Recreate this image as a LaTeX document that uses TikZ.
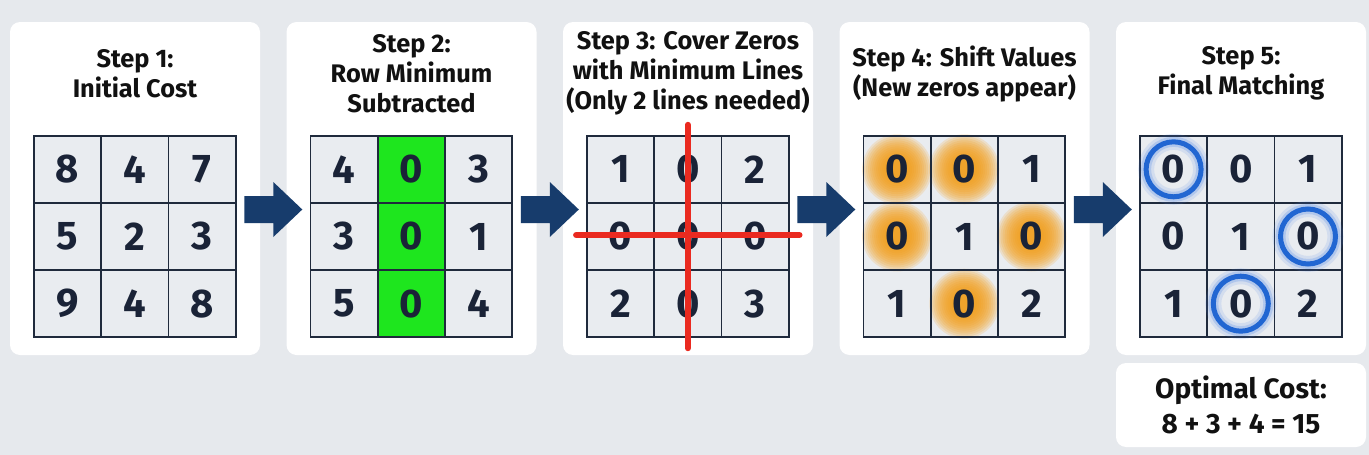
\documentclass[tikz,border=0pt]{standalone}
\usepackage{fontspec}
\setmainfont{Fira Sans}
\definecolor{bgc}{HTML}{E6E9ED}
\definecolor{cellbg}{HTML}{E9ECF0}
\definecolor{gridc}{HTML}{1F2A3C}
\definecolor{digitc}{HTML}{1A2337}
\definecolor{arrowc}{HTML}{173C6C}
\definecolor{greenc}{HTML}{1EE61E}
\definecolor{redc}{HTML}{EA2A20}
\definecolor{orangec}{HTML}{F59E16}
\definecolor{bluec}{HTML}{2166D2}
\definecolor{blueglow}{HTML}{4F86E8}
\definecolor{titlec}{HTML}{111111}
\pgfdeclarelayer{back}
\pgfdeclarelayer{fillL}
\pgfdeclarelayer{glowL}
\pgfsetlayers{back,fillL,glowL,main}
\begin{document}
\begin{tikzpicture}[x=1pt,y=-1pt,
  panel/.style={fill=white, draw=none, rounded corners=10pt, minimum width=250pt, minimum height=333pt, inner sep=0pt},
  cell/.style={draw=gridc, line width=1.8pt, minimum size=67.2pt, inner sep=0pt, text=digitc, font=\bfseries\fontsize{40}{40}\selectfont},
  title/.style={align=center, inner sep=0pt, text=titlec, font=\bfseries\fontsize{25.4}{30}\selectfont},
  redline/.style={draw=redc, line width=6pt, line cap=round},
  barrow/.pic={\fill[arrowc] (-42,-13.5)--(-13,-13.5)--(-13,-27.5)--(16,0)--(-13,27.5)--(-13,13.5)--(-42,13.5)--cycle;}
]
\useasboundingbox (0,0) rectangle (1369,455);
\begin{pgfonlayer}{back}
  \fill[bgc] (0,0) rectangle (1369,455);
  \foreach \i in {1,...,5} \node[panel] (p\i) at ({135+276.5*(\i-1)},188.5) {};
  \node[panel, minimum height=84pt] (res) at (1241,405) {};
\end{pgfonlayer}
% cells
\foreach \k/\vals in {1/{8,4,7,5,2,3,9,4,8}, 2/{4,0,3,3,0,1,5,0,4}, 3/{1,0,2,0,0,0,2,0,3}, 4/{0,0,1,0,1,0,1,0,2}, 5/{0,0,1,0,1,0,1,0,2}} {
  \foreach \v [count=\n from 0] in \vals {
    \pgfmathtruncatemacro\r{\n/3+1}
    \pgfmathtruncatemacro\c{mod(\n,3)+1}
    \node[cell] (g\k-\r-\c) at ({34+276.5*(\k-1)+67.2*(\c-0.5)}, {134.7+67.2*(\r-0.5)+1}) {\v};
  }
}
\begin{pgfonlayer}{fillL}
  \foreach \k in {1,...,5} \fill[cellbg] (g\k-1-1.north west) rectangle (g\k-3-3.south east);
  \fill[greenc] (g2-1-2.north west) rectangle (g2-3-2.south east);
\end{pgfonlayer}
\begin{pgfonlayer}{glowL}
  \foreach \cc in {1-1,1-2,2-1,2-3,3-2}
    \foreach \rr in {13,15,...,35}
      \fill[orangec, opacity=0.17] (g4-\cc) circle (\rr pt);
\end{pgfonlayer}
% titles
\node[title] (t1) at ([yshift=-52pt]p1.north) {Step 1:\\Initial Cost};
\node[title] (t2) at ([yshift=-52pt]p2.north) {Step 2:\\Row Minimum\\Subtracted};
\node[title] (t3) at ([yshift=-52pt]p3.north) {Step 3: Cover Zeros\\with Minimum Lines\\(Only 2 lines needed)};
\node[title] (t4) at ([yshift=-52pt]p4.north) {Step 4: Shift Values\\(New zeros appear)};
\node[title] (t5) at ([yshift=-52pt]p5.north) {Step 5:\\Final Matching};
\node[title, font=\bfseries\fontsize{28}{35}\selectfont] (rt) at (res) {Optimal Cost:\\8 + 3 + 4 = 15};
% red cover lines
\draw[redline] ([yshift=10pt]g3-1-2.north) -- ([yshift=-10pt]g3-3-2.south);
\draw[redline] ([xshift=-10pt,yshift=1.5pt]g3-2-1.west) -- ([xshift=10pt,yshift=1.5pt]g3-2-3.east);
% matching rings
\foreach \cc in {1-1,2-3,3-2} {
  \draw[blueglow, line width=16pt, opacity=0.14] (g5-\cc) circle (27.5pt);
  \draw[blueglow, line width=10pt, opacity=0.25] (g5-\cc) circle (27.5pt);
  \draw[bluec, line width=5pt] (g5-\cc) circle (27.5pt);
}
% arrows
\foreach \i in {2,...,5} \path ([yshift=-21pt]p\i.west) pic {barrow};
\end{tikzpicture}
\end{document}
